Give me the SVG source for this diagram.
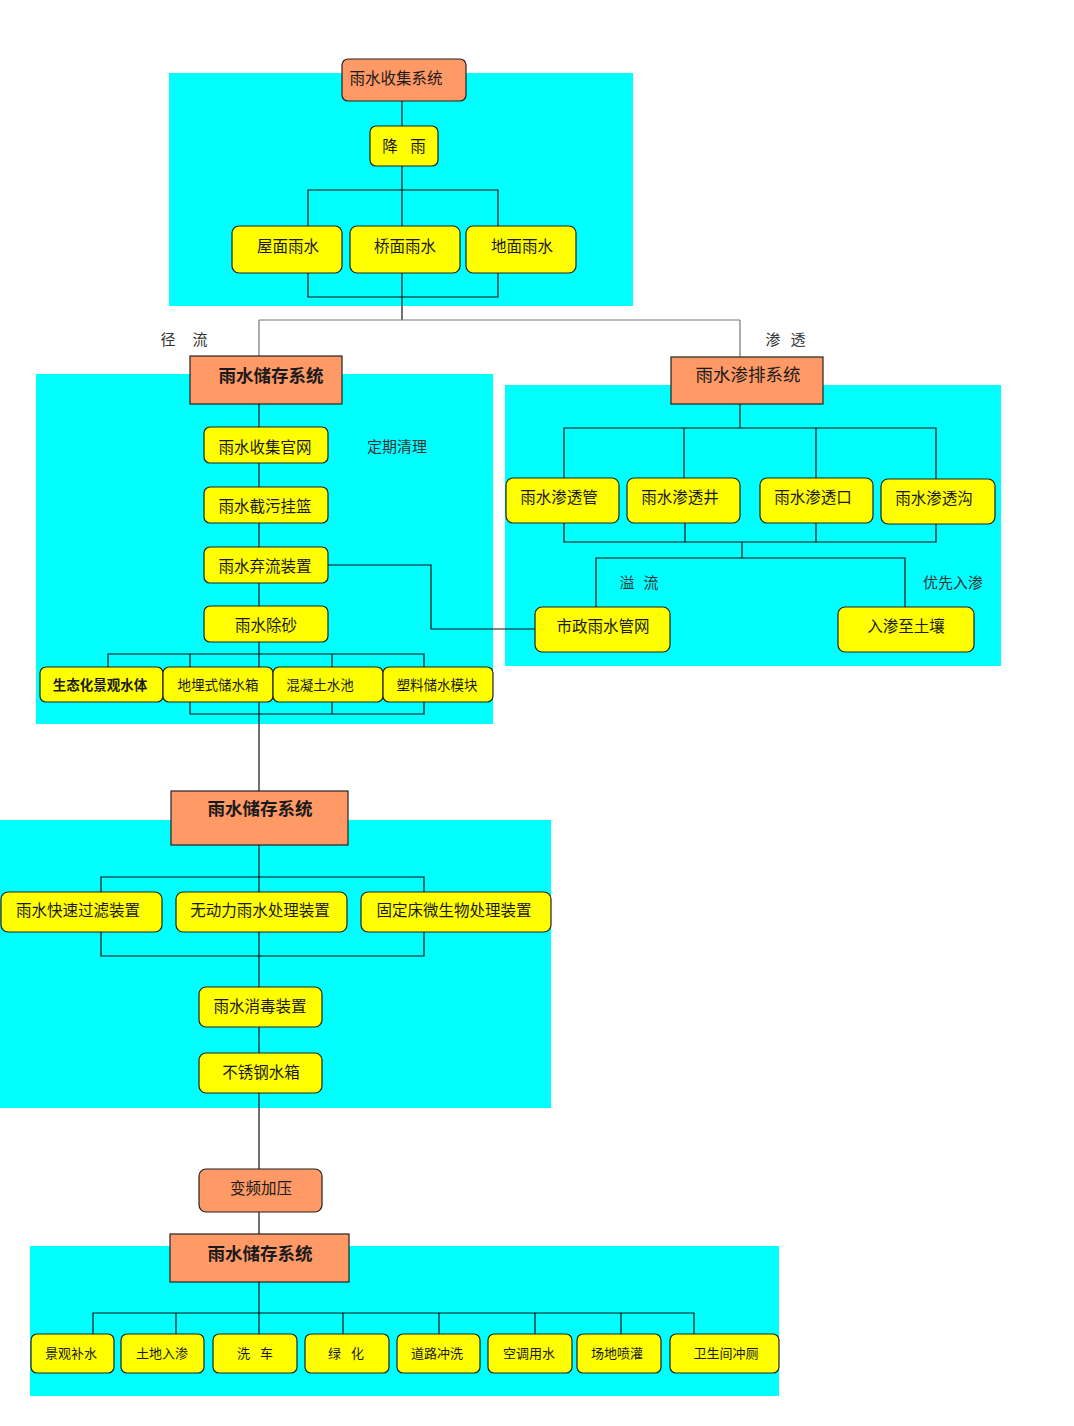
<svg xmlns="http://www.w3.org/2000/svg" width="1074" height="1426" viewBox="0 0 1074 1426">
<style>
.bg{fill:#00FFFF;stroke:none}
.y{fill:#FFFF00;stroke:#222;stroke-width:1.2}
.o{fill:#FF9966;stroke:#222;stroke-width:1.2}
.ln{fill:none;stroke:#111;stroke-width:1.2}
.lg{fill:none;stroke:#777;stroke-width:1.2}
text{font-family:"Noto Sans CJK SC","Noto Sans",sans-serif;fill:#1a1a1a;dominant-baseline:central;text-anchor:middle}
.f16{font-size:15.5px}
.f14{font-size:13.5px}
.f13{font-size:13px}
.b18{font-size:17.5px;font-weight:bold}
.r18{font-size:17.5px}
.lbl{font-size:15px;fill:#333}
.ws16{word-spacing:9px}
.ws13{word-spacing:7px}
</style>
<rect width="1074" height="1426" fill="#fff"/>
<g id="panels">
<rect class="bg" x="169" y="73" width="464" height="233"/>
<rect class="bg" x="36" y="374" width="457" height="350"/>
<rect class="bg" x="505" y="385" width="496" height="281"/>
<rect class="bg" x="0" y="820" width="551" height="288"/>
<rect class="bg" x="30" y="1246" width="749" height="150"/>
</g>
<g id="connectors">
<path class="ln" d="M402,101V126M402,166V297M308,226V190H498V226M308,273V297H498V273"/>
<path class="ln" d="M402,297V320"/>
<path class="lg" d="M259,320H740M259,320V356M740,320V357"/>
<path class="ln" d="M259,404V667M108,667V654H424V667M190,654V667M332,654V667"/>
<path class="ln" d="M190,702V714H424V702M332,702V714M259,702V791"/>
<path class="ln" d="M328,565H431V629H535"/>
<path class="ln" d="M740,404V428M564,479V428H936V479M684,428V479M816,428V479"/>
<path class="ln" d="M564,523V542H936V524M685,523V542M816,523V542M742,542V558M596,607V558H905V607"/>
<path class="ln" d="M259,845V987M101,892V877H424V892M101,932V956H424V932M259,1027V1053M259,1093V1169"/>
<path class="ln" d="M259,1212V1234M259,1282V1334M93,1334V1313H694V1334M176,1313V1334M343,1313V1334M439,1313V1334M535,1313V1334M621,1313V1334"/>
</g>
<g id="labels">
<text class="lbl"><tspan x="168" y="338">径</tspan><tspan x="200" y="338">流</tspan></text>
<text class="lbl"><tspan x="773" y="338">渗</tspan><tspan x="798" y="338">透</tspan></text>
<text class="lbl" x="397" y="445">定期清理</text>
<text class="lbl"><tspan x="627" y="581">溢</tspan><tspan x="651" y="581">流</tspan></text>
<text class="lbl" x="953" y="581">优先入渗</text>
</g>
<g id="n-collect"><rect class="o" x="342" y="59" width="124" height="42" rx="6"/><text class="f16" x="396" y="77">雨水收集系统</text></g>
<g id="n-rain"><rect class="y" x="370" y="126" width="68" height="40" rx="6"/><text class="f16 ws16" x="404" y="145">降 雨</text></g>
<g id="n-roof"><rect class="y" x="232" y="226" width="110" height="47" rx="7"/><text class="f16" x="288" y="245">屋面雨水</text></g>
<g id="n-bridge"><rect class="y" x="350" y="226" width="110" height="47" rx="7"/><text class="f16" x="405" y="245">桥面雨水</text></g>
<g id="n-ground"><rect class="y" x="466" y="226" width="110" height="47" rx="7"/><text class="f16" x="522" y="245">地面雨水</text></g>
<g id="n-store1"><rect class="o" x="190" y="356" width="152" height="48"/><text class="b18" x="271" y="374">雨水储存系统</text></g>
<g id="n-pipe"><rect class="y" x="204" y="427" width="124" height="36" rx="6"/><text class="f16" x="265" y="446">雨水收集官网</text></g>
<g id="n-basket"><rect class="y" x="204" y="487" width="124" height="36" rx="6"/><text class="f16" x="265" y="505">雨水截污挂篮</text></g>
<g id="n-divert"><rect class="y" x="204" y="547" width="124" height="36" rx="6"/><text class="f16" x="265" y="565">雨水弃流装置</text></g>
<g id="n-sand"><rect class="y" x="204" y="606" width="124" height="36" rx="6"/><text class="f16" x="266" y="624">雨水除砂</text></g>
<g id="n-eco"><rect class="y" x="40" y="667" width="123" height="35" rx="6"/><text class="f14" style="font-weight:bold" x="100" y="684">生态化景观水体</text></g>
<g id="n-buried"><rect class="y" x="163" y="667" width="110" height="35" rx="6"/><text class="f14" x="218" y="684">地埋式储水箱</text></g>
<g id="n-concrete"><rect class="y" x="273" y="667" width="110" height="35" rx="6"/><text class="f14" x="320" y="684">混凝土水池</text></g>
<g id="n-plastic"><rect class="y" x="383" y="667" width="110" height="35" rx="6"/><text class="f14" x="437" y="684">塑料储水模块</text></g>
<g id="n-infil"><rect class="o" x="671" y="357" width="152" height="47"/><text class="r18" x="748" y="373">雨水渗排系统</text></g>
<g id="n-ipipe"><rect class="y" x="506" y="478" width="113" height="45" rx="7"/><text class="f16" x="559" y="496">雨水渗透管</text></g>
<g id="n-iwell"><rect class="y" x="627" y="478" width="113" height="45" rx="7"/><text class="f16" x="680" y="496">雨水渗透井</text></g>
<g id="n-iport"><rect class="y" x="760" y="478" width="113" height="45" rx="7"/><text class="f16" x="813" y="496">雨水渗透口</text></g>
<g id="n-iditch"><rect class="y" x="881" y="479" width="114" height="45" rx="7"/><text class="f16" x="934" y="497">雨水渗透沟</text></g>
<g id="n-muni"><rect class="y" x="535" y="607" width="135" height="45" rx="7"/><text class="f16" x="603" y="625">市政雨水管网</text></g>
<g id="n-soil"><rect class="y" x="838" y="607" width="136" height="45" rx="7"/><text class="f16" x="906" y="625">入渗至土壤</text></g>
<g id="n-store2"><rect class="o" x="171" y="791" width="177" height="54"/><text class="b18" x="260" y="807">雨水储存系统</text></g>
<g id="n-filter"><rect class="y" x="1" y="892" width="161" height="40" rx="7"/><text class="f16" x="78" y="909">雨水快速过滤装置</text></g>
<g id="n-unpow"><rect class="y" x="176" y="892" width="171" height="40" rx="7"/><text class="f16" x="260" y="909">无动力雨水处理装置</text></g>
<g id="n-bio"><rect class="y" x="361" y="892" width="190" height="40" rx="7"/><text class="f16" x="454" y="909">固定床微生物处理装置</text></g>
<g id="n-disinf"><rect class="y" x="199" y="987" width="123" height="40" rx="7"/><text class="f16" x="260" y="1005">雨水消毒装置</text></g>
<g id="n-tank"><rect class="y" x="199" y="1053" width="123" height="40" rx="7"/><text class="f16" x="261" y="1071">不锈钢水箱</text></g>
<g id="n-pump"><rect class="o" x="199" y="1169" width="123" height="43" rx="7"/><text class="f16" x="261" y="1187">变频加压</text></g>
<g id="n-store3"><rect class="o" x="170" y="1234" width="179" height="48"/><text class="b18" x="260" y="1252">雨水储存系统</text></g>
<g id="n-u1"><rect class="y" x="31" y="1334" width="83" height="39" rx="6"/><text class="f13" x="71" y="1352">景观补水</text></g>
<g id="n-u2"><rect class="y" x="121" y="1334" width="83" height="39" rx="6"/><text class="f13" x="162" y="1352">土地入渗</text></g>
<g id="n-u3"><rect class="y" x="213" y="1334" width="84" height="39" rx="6"/><text class="f13 ws13" x="255" y="1352">洗 车</text></g>
<g id="n-u4"><rect class="y" x="305" y="1334" width="84" height="39" rx="6"/><text class="f13 ws13" x="346" y="1352">绿 化</text></g>
<g id="n-u5"><rect class="y" x="397" y="1334" width="83" height="39" rx="6"/><text class="f13" x="437" y="1352">道路冲洗</text></g>
<g id="n-u6"><rect class="y" x="488" y="1334" width="84" height="39" rx="6"/><text class="f13" x="529" y="1352">空调用水</text></g>
<g id="n-u7"><rect class="y" x="577" y="1334" width="84" height="39" rx="6"/><text class="f13" x="617" y="1352">场地喷灌</text></g>
<g id="n-u8"><rect class="y" x="670" y="1334" width="109" height="39" rx="6"/><text class="f13" x="726" y="1352">卫生间冲厕</text></g>
</svg>
